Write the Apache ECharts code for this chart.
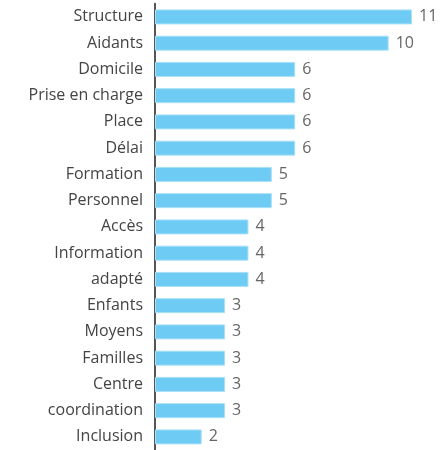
<!DOCTYPE html>
<html><head><meta charset="utf-8">
<script src="https://cdn.jsdelivr.net/npm/echarts@6/dist/echarts.min.js"></script>
<style>html,body{margin:0;padding:0;background:#fff}#c{width:445px;height:450px}</style>
</head><body><div id="c"></div>
<script>
const categories = ["Structure","Aidants","Domicile","Prise en charge","Place","Délai","Formation","Personnel","Accès","Information","adapté","Enfants","Moyens","Familles","Centre","coordination","Inclusion"];
const values = [11,10,6,6,6,6,5,5,4,4,4,3,3,3,3,3,2];
const chart = echarts.init(document.getElementById('c'));
chart.setOption({
  animation:false,
  grid:{left:155, top:3.8, width:257, height:450, containLabel:false},
  xAxis:{type:'value', min:0, max:11, show:false},
  yAxis:{type:'category', inverse:true, data:categories,
    axisLine:{show:true, lineStyle:{color:'#555', width:2}},
    axisTick:{show:false},
    axisLabel:{color:'#444', fontSize:16, fontFamily:'Open Sans', margin:12}},
  series:[{type:'bar', data:values, barWidth:15,
    itemStyle:{color:'#6ECBF4', borderColor:'#A9E0F8', borderWidth:1},
    label:{show:true, position:'right', color:'#666', fontSize:16, fontFamily:'Open Sans', distance:7}}]
});
</script></body></html>
